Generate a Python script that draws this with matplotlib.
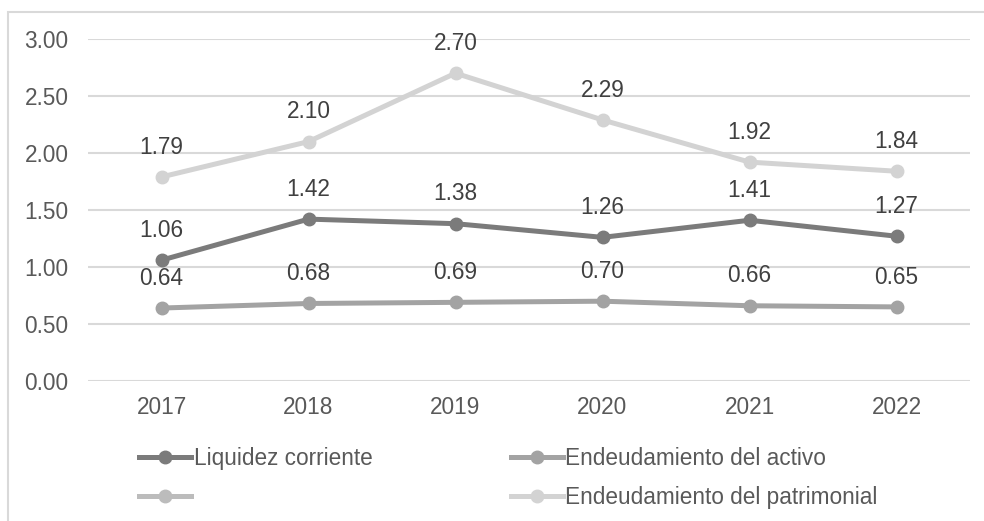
import matplotlib
matplotlib.use("Agg")
import matplotlib.pyplot as plt
from matplotlib.lines import Line2D
from matplotlib.patches import Rectangle

plt.rcParams['font.family'] = ['Liberation Sans', 'DejaVu Sans']

years = ["2017", "2018", "2019", "2020", "2021", "2022"]
liquidez = [1.06, 1.42, 1.38, 1.26, 1.41, 1.27]
activo = [0.64, 0.68, 0.69, 0.70, 0.66, 0.65]
patrimonial = [1.79, 2.10, 2.70, 2.29, 1.92, 1.84]
yticks = [0.0, 0.5, 1.0, 1.5, 2.0, 2.5, 3.0]

names = ["Liquidez corriente", "Endeudamiento del activo", "", "Endeudamiento del patrimonial"]
colors = ["#7b7b7b", "#a3a3a3", "#bcbcbc", "#d3d3d3"]
text_color = "#595959"
fs = 16.3

fig = plt.figure(figsize=(9.84, 5.21), dpi=100)
ax = fig.add_axes([88/984, 1-381/521, (970-88)/984, (381-39)/521])

fig.patches.append(Rectangle((8/984, -0.1), 1.2, 1.1 - 12/521, transform=fig.transFigure,
                             fill=False, edgecolor="#d9d9d9", linewidth=1.5, zorder=0))

x = list(range(len(years)))
lw = 3.6
ms = 9
series = [(liquidez, colors[0]), (activo, colors[1]), (patrimonial, colors[3])]
for vals, c in series:
    ax.plot(x, vals, color=c, linewidth=lw, marker='o', markersize=ms, zorder=3,
            solid_capstyle='round')
    for xi, v in zip(x, vals):
        ax.annotate(f"{v:.2f}", (xi, v), xytext=(0, 21.5), textcoords='offset points',
                    ha='center', va='center', fontsize=fs, color="#404040", zorder=4)

ax.set_xlim(-0.5, 5.5)
ax.set_ylim(0, 3)
ax.set_yticks(yticks)
ax.set_yticklabels([f"{t:.2f}" for t in yticks])
ax.set_xticks(x)
ax.set_xticklabels(years)
ax.tick_params(axis='both', length=0, labelsize=fs, labelcolor=text_color)
ax.tick_params(axis='y', pad=14)
ax.tick_params(axis='x', pad=11)
ax.grid(axis='y', color="#d9d9d9", linewidth=1.5)
ax.set_axisbelow(True)
for s in ax.spines.values():
    s.set_visible(False)

handles = [Line2D([], [], color=colors[0], linewidth=lw, marker='o', markersize=ms),
           Line2D([], [], color=colors[2], linewidth=lw, marker='o', markersize=ms),
           Line2D([], [], color=colors[1], linewidth=lw, marker='o', markersize=ms),
           Line2D([], [], color=colors[3], linewidth=lw, marker='o', markersize=ms)]
labels = [names[0], names[2], names[1], names[3]]
leg = fig.legend(handles, labels, ncol=2, loc='upper left',
                 bbox_to_anchor=(137/984 - 0.005, 1 - 440/521),
                 frameon=False, fontsize=fs, handlelength=2.3, handletextpad=0.12,
                 columnspacing=6.1, labelspacing=0.72, borderpad=0.3, borderaxespad=0)
for t in leg.get_texts():
    t.set_color(text_color)

fig.savefig("out.png", dpi=100)
